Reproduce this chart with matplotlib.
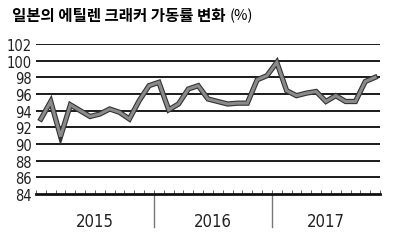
import matplotlib
matplotlib.use("Agg")
import matplotlib.pyplot as plt
import matplotlib.patheffects as pe
import matplotlib.transforms as mtransforms
import numpy as np

# monthly utilisation rate, Jan 2015 .. Nov 2017
rate_2015 = [93.0, 95.1, 90.9, 94.7, 94.0, 93.3, 93.6, 94.2, 93.8, 93.0, 95.2, 97.0]
rate_2016 = [97.4, 94.1, 94.8, 96.6, 97.0, 95.4, 95.1, 94.8, 94.9, 94.9, 97.7, 98.2]
rate_2017 = [99.8, 96.4, 95.8, 96.1, 96.3, 95.1, 95.8, 95.1, 95.1, 97.5, 98.0]
years = ["2015", "2016", "2017"]
yticks = list(range(84, 103, 2))
title = "일본의 에틸렌 크래커 가동률 변화"

rates = rate_2015 + rate_2016 + rate_2017
months = np.arange(len(rates))

narrow = dict(family="DejaVu Sans", stretch="condensed")

fig = plt.figure(figsize=(3.97, 2.53), dpi=100)
ax = fig.add_axes([36 / 397, 1 - 195 / 253, 344 / 397, 150 / 253])

for v in yticks[1:]:
    ax.axhline(v, color="#1a1a1a", lw=1.4, zorder=1)

ax.plot(months, rates, color="#8a8a8a", lw=2.2, solid_joinstyle="miter", zorder=3,
        path_effects=[pe.Stroke(linewidth=3.8, foreground="#333333"), pe.Normal()])

ax.set_xlim(-0.5, 34.4)
ax.set_ylim(84, 102)
for s in ["top", "right", "left"]:
    ax.spines[s].set_visible(False)
ax.spines["bottom"].set_linewidth(2.0)
ax.spines["bottom"].set_color("#111111")

ax.set_yticks(yticks)
ax.set_yticklabels([str(v) for v in yticks], fontsize=10.5, color="#222222", **narrow)
ax.tick_params(axis="y", length=0, pad=3)
ax.set_xticks(np.arange(-0.5, 35, 1))
ax.set_xticklabels([])
ax.tick_params(axis="x", direction="in", length=3, width=0.6, color="#444444")

trans = mtransforms.blended_transform_factory(ax.transData, ax.transAxes)
for xb in [11.5, 23.5]:
    ax.plot([xb, xb], [0, -0.22], color="#777777", lw=1.0, transform=trans, clip_on=False)
for xc, yr in zip([5.5, 17.5, 29.0], years):
    ax.text(xc, -0.18, yr, transform=trans, ha="center", va="center",
            fontsize=12, color="#222222", **narrow)

fig.text(12 / 397, 1 - 16 / 253, title, family=["Noto Sans CJK KR", "DejaVu Sans"],
         fontsize=11.2, fontweight="bold", va="center", ha="left")
fig.text(230 / 397, 1 - 16 / 253, "(%)", family=["Noto Sans CJK KR", "DejaVu Sans"],
         fontsize=10.5, va="center", ha="left")

fig.savefig("out.png", dpi=100)
